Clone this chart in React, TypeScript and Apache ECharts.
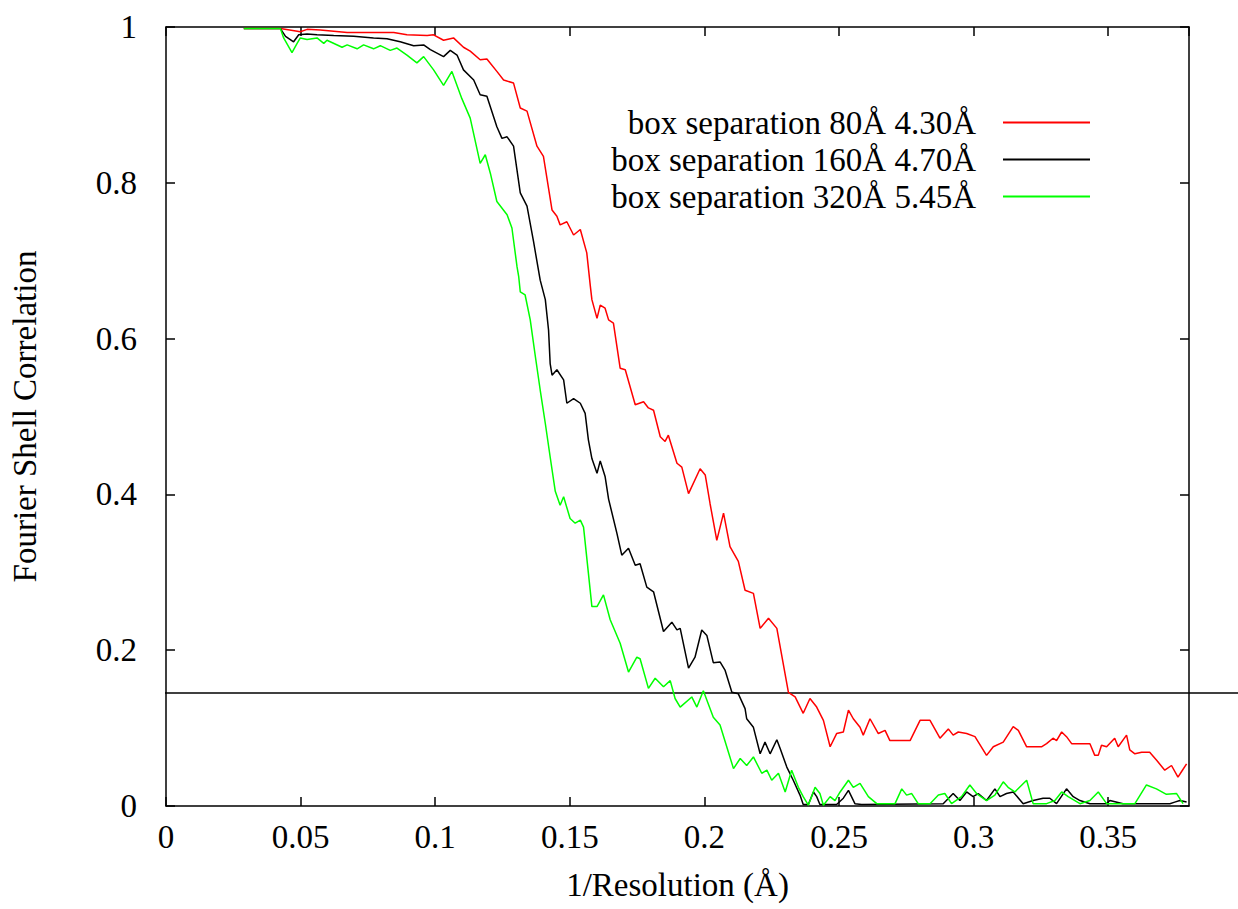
import React, { useEffect, useRef } from "react";
import * as echarts from "echarts";

const FONT = "'Liberation Serif', 'Times New Roman', serif";

const seriesNames = [
  "box separation 80Å 4.30Å",
  "box separation 160Å 4.70Å",
  "box separation 320Å 5.45Å",
];
const seriesColors = ["#ff0000", "#000000", "#00ff00"];

const xTitle = "1/Resolution (Å)";
const yTitle = "Fourier Shell Correlation";
const fscThreshold = 0.145;
const xMin = 0, xMax = 0.38, xStep = 0.05;
const yMin = 0, yMax = 1, yStep = 0.2;

const redX = [0.0289,0.0425,0.0499,0.0524,0.0573,0.0673,0.0846,0.0895,0.0970,0.0994,0.1031,0.1068,0.1105,0.1130,0.1167,0.1192,0.1229,0.1254,0.1291,0.1316,0.1341,0.1378,0.1402,0.1434,0.1452,0.1464,0.1489,0.1514,0.1539,0.1563,0.1576,0.1582,0.1601,0.1613,0.1631,0.1644,0.1662,0.1687,0.1706,0.1743,0.1774,0.1792,0.1811,0.1836,0.1854,0.1866,0.1898,0.1916,0.1941,0.1984,0.2003,0.2021,0.2046,0.2071,0.2095,0.2126,0.2151,0.2182,0.2207,0.2238,0.2269,0.2312,0.2337,0.2367,0.2392,0.2417,0.2442,0.2467,0.2491,0.2516,0.2535,0.2553,0.2578,0.2590,0.2615,0.2646,0.2671,0.2689,0.2764,0.2801,0.2838,0.2875,0.2906,0.2924,0.2943,0.2974,0.3005,0.3048,0.3073,0.3110,0.3147,0.3166,0.3197,0.3252,0.3271,0.3295,0.3308,0.3327,0.3345,0.3364,0.3432,0.3450,0.3463,0.3475,0.3494,0.3524,0.3537,0.3568,0.3580,0.3599,0.3624,0.3654,0.3679,0.3710,0.3735,0.3759,0.3772,0.3791];
const redY = [0.998,0.998,0.994,0.997,0.996,0.993,0.993,0.990,0.989,0.990,0.983,0.986,0.974,0.969,0.958,0.959,0.943,0.932,0.928,0.896,0.892,0.847,0.834,0.765,0.757,0.746,0.750,0.733,0.740,0.710,0.668,0.650,0.626,0.643,0.639,0.624,0.620,0.562,0.560,0.515,0.519,0.511,0.508,0.474,0.468,0.476,0.440,0.435,0.401,0.433,0.425,0.388,0.341,0.376,0.333,0.314,0.277,0.273,0.228,0.241,0.228,0.146,0.140,0.119,0.138,0.127,0.110,0.076,0.093,0.095,0.123,0.112,0.101,0.091,0.112,0.093,0.097,0.084,0.084,0.110,0.110,0.087,0.099,0.091,0.095,0.093,0.089,0.065,0.076,0.082,0.102,0.097,0.076,0.076,0.080,0.087,0.084,0.095,0.089,0.080,0.080,0.065,0.065,0.078,0.076,0.087,0.076,0.091,0.072,0.067,0.069,0.069,0.059,0.046,0.052,0.037,0.044,0.054];

const blackX = [0.0289,0.0425,0.0444,0.0474,0.0493,0.0524,0.0561,0.0623,0.0697,0.0771,0.0821,0.0870,0.0920,0.0957,0.0982,0.1031,0.1056,0.1081,0.1105,0.1143,0.1167,0.1192,0.1229,0.1248,0.1267,0.1291,0.1316,0.1341,0.1365,0.1390,0.1409,0.1421,0.1427,0.1434,0.1452,0.1477,0.1489,0.1514,0.1539,0.1557,0.1569,0.1582,0.1601,0.1613,0.1631,0.1644,0.1675,0.1693,0.1718,0.1743,0.1761,0.1786,0.1811,0.1848,0.1879,0.1898,0.1910,0.1941,0.1965,0.1990,0.2009,0.2033,0.2058,0.2077,0.2102,0.2126,0.2151,0.2157,0.2182,0.2207,0.2225,0.2244,0.2269,0.2281,0.2306,0.2330,0.2355,0.2367,0.2386,0.2405,0.2417,0.2429,0.2491,0.2516,0.2535,0.2559,0.2584,0.2887,0.2924,0.2949,0.2974,0.2998,0.3017,0.3048,0.3079,0.3098,0.3122,0.3147,0.3184,0.3221,0.3258,0.3283,0.3308,0.3345,0.3370,0.3395,0.3432,0.3494,0.3506,0.3555,0.3692,0.3729,0.3747,0.3766,0.3791];
const blackY = [0.998,0.998,0.988,0.981,0.990,0.991,0.990,0.989,0.988,0.986,0.985,0.981,0.976,0.977,0.971,0.962,0.970,0.964,0.945,0.932,0.913,0.911,0.872,0.857,0.859,0.847,0.787,0.770,0.725,0.675,0.650,0.611,0.568,0.553,0.560,0.547,0.517,0.523,0.517,0.504,0.470,0.446,0.427,0.443,0.423,0.394,0.350,0.322,0.331,0.309,0.311,0.281,0.275,0.224,0.236,0.226,0.228,0.177,0.191,0.226,0.219,0.184,0.185,0.174,0.146,0.144,0.125,0.112,0.101,0.067,0.082,0.067,0.085,0.074,0.050,0.033,0.014,0.002,0.002,0.018,0.012,0.002,0.002,0.010,0.020,0.003,0.002,0.003,0.016,0.007,0.018,0.012,0.016,0.007,0.022,0.012,0.016,0.018,0.003,0.007,0.010,0.010,0.003,0.022,0.012,0.007,0.003,0.003,0.007,0.003,0.003,0.003,0.005,0.007,0.005];

const greenX = [0.0289,0.0425,0.0437,0.0468,0.0487,0.0499,0.0524,0.0561,0.0586,0.0598,0.0654,0.0673,0.0710,0.0734,0.0771,0.0796,0.0833,0.0858,0.0895,0.0932,0.0957,0.0994,0.1031,0.1062,0.1099,0.1130,0.1167,0.1186,0.1205,0.1229,0.1267,0.1285,0.1304,0.1310,0.1316,0.1334,0.1353,0.1372,0.1390,0.1409,0.1427,0.1446,0.1464,0.1477,0.1501,0.1520,0.1539,0.1551,0.1569,0.1582,0.1601,0.1625,0.1650,0.1687,0.1718,0.1749,0.1761,0.1792,0.1817,0.1848,0.1873,0.1891,0.1910,0.1953,0.1972,0.1996,0.2033,0.2058,0.2108,0.2133,0.2157,0.2182,0.2213,0.2232,0.2250,0.2275,0.2300,0.2324,0.2349,0.2367,0.2386,0.2411,0.2429,0.2442,0.2467,0.2485,0.2504,0.2535,0.2553,0.2578,0.2609,0.2640,0.2708,0.2733,0.2751,0.2770,0.2794,0.2838,0.2869,0.2893,0.2918,0.2955,0.2986,0.3011,0.3048,0.3079,0.3110,0.3128,0.3153,0.3197,0.3221,0.3271,0.3302,0.3327,0.3351,0.3395,0.3432,0.3463,0.3494,0.3555,0.3599,0.3642,0.3679,0.3716,0.3754,0.3778];
const greenY = [0.998,0.998,0.986,0.967,0.979,0.986,0.984,0.986,0.979,0.983,0.974,0.977,0.972,0.977,0.972,0.976,0.970,0.973,0.964,0.954,0.962,0.945,0.925,0.943,0.908,0.883,0.825,0.836,0.812,0.776,0.759,0.742,0.692,0.680,0.660,0.656,0.624,0.577,0.534,0.491,0.448,0.404,0.386,0.397,0.369,0.363,0.367,0.358,0.299,0.256,0.256,0.271,0.239,0.209,0.172,0.191,0.189,0.151,0.164,0.153,0.161,0.138,0.127,0.140,0.127,0.148,0.114,0.104,0.048,0.061,0.052,0.063,0.042,0.046,0.033,0.042,0.018,0.046,0.024,0.012,0.001,0.024,0.016,0.001,0.012,0.007,0.018,0.033,0.024,0.029,0.012,0.003,0.003,0.022,0.014,0.016,0.003,0.003,0.014,0.016,0.003,0.012,0.027,0.016,0.007,0.014,0.031,0.024,0.018,0.033,0.003,0.003,0.007,0.018,0.012,0.003,0.007,0.018,0.003,0.003,0.003,0.027,0.022,0.015,0.016,0.003];

const zip = (xs: number[], ys: number[]) => xs.map((x, i) => [x, ys[i]]);

export default function App() {
  const ref = useRef<HTMLDivElement>(null);
  useEffect(() => {
    if (!ref.current) return;
    const chart = echarts.init(ref.current, undefined, { renderer: "svg" });
    const axisLine = { show: true, onZero: false, lineStyle: { color: "#000", width: 1.5 } };
    const axisTick = { show: true, inside: true, length: 9, lineStyle: { color: "#000", width: 1.5 } };
    const fmt = (v: number) => (v === 0 ? "0" : String(+v.toFixed(2)));
    const data = [zip(redX, redY), zip(blackX, blackY), zip(greenX, greenY)];
    const option: any = {
      animation: false,
      backgroundColor: "#ffffff",
      textStyle: { fontFamily: FONT },
      grid: [
        { left: 165, right: 49, top: 27, bottom: 103 },
        { left: 165, right: 0, top: 27, bottom: 103 },
      ],
      xAxis: [
        {
          type: "value", gridIndex: 0, position: "bottom", min: xMin, max: xMax, interval: xStep,
          axisLine, axisTick, splitLine: { show: false },
          axisLabel: { fontSize: 33, color: "#000", fontFamily: FONT, margin: 14, formatter: fmt, showMaxLabel: false },
          name: xTitle, nameLocation: "middle", nameGap: 62,
          nameTextStyle: { fontSize: 33, color: "#000", fontFamily: FONT },
        },
        {
          type: "value", gridIndex: 0, position: "top", min: xMin, max: xMax, interval: xStep,
          axisLine, axisTick, splitLine: { show: false }, axisLabel: { show: false },
        },
        { type: "value", gridIndex: 1, show: false, min: 0, max: 1 },
      ],
      yAxis: [
        {
          type: "value", gridIndex: 0, position: "left", min: yMin, max: yMax, interval: yStep,
          axisLine, axisTick, splitLine: { show: false },
          axisLabel: { fontSize: 33, color: "#000", fontFamily: FONT, margin: 29, formatter: fmt },
          name: yTitle, nameLocation: "middle", nameGap: 125,
          nameTextStyle: { fontSize: 33, color: "#000", fontFamily: FONT },
        },
        {
          type: "value", gridIndex: 0, position: "right", min: yMin, max: yMax, interval: yStep,
          axisLine, axisTick, splitLine: { show: false }, axisLabel: { show: false },
        },
        { type: "value", gridIndex: 1, show: false, min: yMin, max: yMax },
      ],
      legend: {
        data: seriesNames.map((name, i) => ({ name, icon: "rect", itemStyle: { color: seriesColors[i] } })),
        orient: "vertical",
        align: "right",
        right: 143,
        top: 101,
        itemWidth: 87,
        itemHeight: 2,
        itemGap: 4,
        textStyle: { fontSize: 33, color: "#000", fontFamily: FONT, padding: [0, 22, 0, 0] },
      },
      series: [
        {
          name: "threshold", type: "line", xAxisIndex: 2, yAxisIndex: 2, silent: true,
          symbol: "none", data: [[0, fscThreshold], [1, fscThreshold]],
          lineStyle: { color: "#000", width: 1.5 },
        },
        ...seriesNames.map((name, i) => ({
          name, type: "line", xAxisIndex: 0, yAxisIndex: 0, symbol: "none", showSymbol: false,
          data: data[i],
          lineStyle: { color: seriesColors[i], width: 1.5 },
          itemStyle: { color: seriesColors[i] },
        })),
      ],
    };
    chart.setOption(option);
    return () => chart.dispose();
  }, []);
  return (
    <div
      ref={ref}
      style={{ position: "absolute", left: 0, top: 0, width: 1238, height: 909, background: "#fff" }}
    />
  );
}
